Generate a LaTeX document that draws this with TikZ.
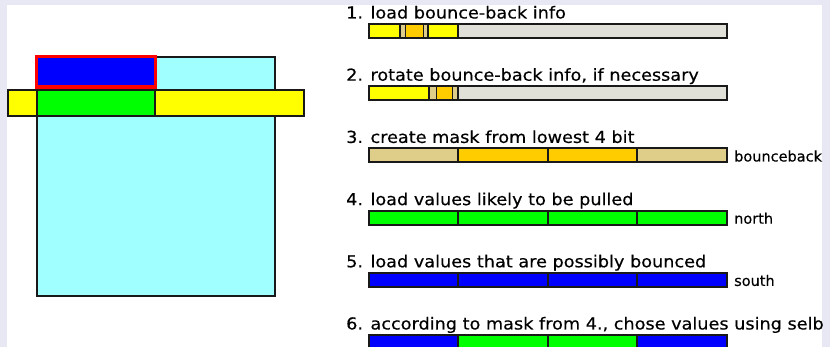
\documentclass[tikz,border=0pt]{standalone}
\usepackage{fontspec}
\setmainfont{DejaVu Sans}
\newfontfamily\stepfont[FakeStretch=1.07,FakeBold=0.4]{DejaVu Sans}
\newfontfamily\sidefont[FakeBold=0.3]{DejaVu Sans}
\definecolor{bgl}{RGB}{232,232,244}
\definecolor{cyanf}{RGB}{160,255,255}
\definecolor{yel}{RGB}{255,255,0}
\definecolor{org}{RGB}{255,204,0}
\definecolor{tan}{RGB}{222,206,138}
\definecolor{grayf}{RGB}{224,224,216}
\definecolor{grn}{RGB}{0,255,0}
\definecolor{blu}{RGB}{0,0,255}
\definecolor{edge}{RGB}{25,25,25}
\tikzset{
  box/.style={draw=edge, line width=2pt},
  seg/.style={draw=edge, line width=2pt},
  thinseg/.style={draw=edge, line width=1pt},
  steplabel/.style={anchor=base west, inner sep=0pt, font=\stepfont\fontsize{16.5}{18}\selectfont},
  sidelabel/.style={anchor=base west, inner sep=0pt, font=\sidefont\fontsize{14.5}{16}\selectfont},
}
\begin{document}
\begin{tikzpicture}[x=1pt,y=-1pt]
\useasboundingbox (0,0) rectangle (830,347);
\fill[bgl] (0,0) rectangle (830,347);
\fill[white] (7,5) rectangle (822,347);
% left diagram
\draw[box, fill=cyanf] (37,57.5) rectangle (275,296);
\draw[box, fill=yel] (8,90) rectangle (304,116);
\draw[box, fill=grn] (37,90) rectangle (155,116);
\draw[draw=red, line width=3.5pt, fill=blu] (36.5,56.5) rectangle (155.5,86.8);
% step labels
\node[steplabel] (t1) at (346,18.5) {1. load bounce-back info};
\node[steplabel] (t2) at (346,80.7) {2. rotate bounce-back info, if necessary};
\node[steplabel] (t3) at (346,142.9) {3. create mask from lowest 4 bit};
\node[steplabel] (t4) at (346,205.1) {4. load values likely to be pulled};
\node[steplabel] (t5) at (346,267.3) {5. load values that are possibly bounced};
\node[steplabel] (t6) at (346,329.5) {6. according to mask from 4., chose values using selb};
% bar 1
\draw[seg, fill=grayf] (369,24) rectangle (727,38);
\draw[seg, fill=yel] (369,24) rectangle (400,38);
\draw[thinseg, fill=tan] (400,24) rectangle (405,38);
\draw[thinseg, fill=org] (405,24) rectangle (423,38);
\draw[thinseg, fill=tan] (423,24) rectangle (428,38);
\draw[seg, fill=yel] (428,24) rectangle (458,38);
\draw[seg] (369,24) rectangle (727,38);
% bar 2
\draw[seg, fill=grayf] (369,86.2) rectangle (727,100.2);
\draw[seg, fill=yel] (369,86.2) rectangle (429,100.2);
\draw[thinseg, fill=tan] (429,86.2) rectangle (436,100.2);
\draw[thinseg, fill=org] (436,86.2) rectangle (452,100.2);
\draw[thinseg, fill=tan] (452,86.2) rectangle (458,100.2);
\draw[seg] (458,86.2) -- (458,100.2);
\draw[seg] (369,86.2) rectangle (727,100.2);
% bar 3
\draw[seg, fill=tan] (369,148.4) rectangle (458,162.4);
\draw[seg, fill=org] (458,148.4) rectangle (548,162.4);
\draw[seg, fill=org] (548,148.4) rectangle (637,162.4);
\draw[seg, fill=tan] (637,148.4) rectangle (727,162.4);
\node[sidelabel] (l3) at (734,161.5) {bounceback};
% bar 4
\draw[seg, fill=grn] (369,210.6) rectangle (458,224.6);
\draw[seg, fill=grn] (458,210.6) rectangle (548,224.6);
\draw[seg, fill=grn] (548,210.6) rectangle (637,224.6);
\draw[seg, fill=grn] (637,210.6) rectangle (727,224.6);
\node[sidelabel] (l4) at (734,223.7) {north};
% bar 5
\draw[seg, fill=blu] (369,272.8) rectangle (458,286.8);
\draw[seg, fill=blu] (458,272.8) rectangle (548,286.8);
\draw[seg, fill=blu] (548,272.8) rectangle (637,286.8);
\draw[seg, fill=blu] (637,272.8) rectangle (727,286.8);
\node[sidelabel] (l5) at (734,285.9) {south};
% bar 6
\draw[seg, fill=blu] (369,335) rectangle (458,349);
\draw[seg, fill=grn] (458,335) rectangle (548,349);
\draw[seg, fill=grn] (548,335) rectangle (637,349);
\draw[seg, fill=blu] (637,335) rectangle (727,349);
\end{tikzpicture}
\end{document}
